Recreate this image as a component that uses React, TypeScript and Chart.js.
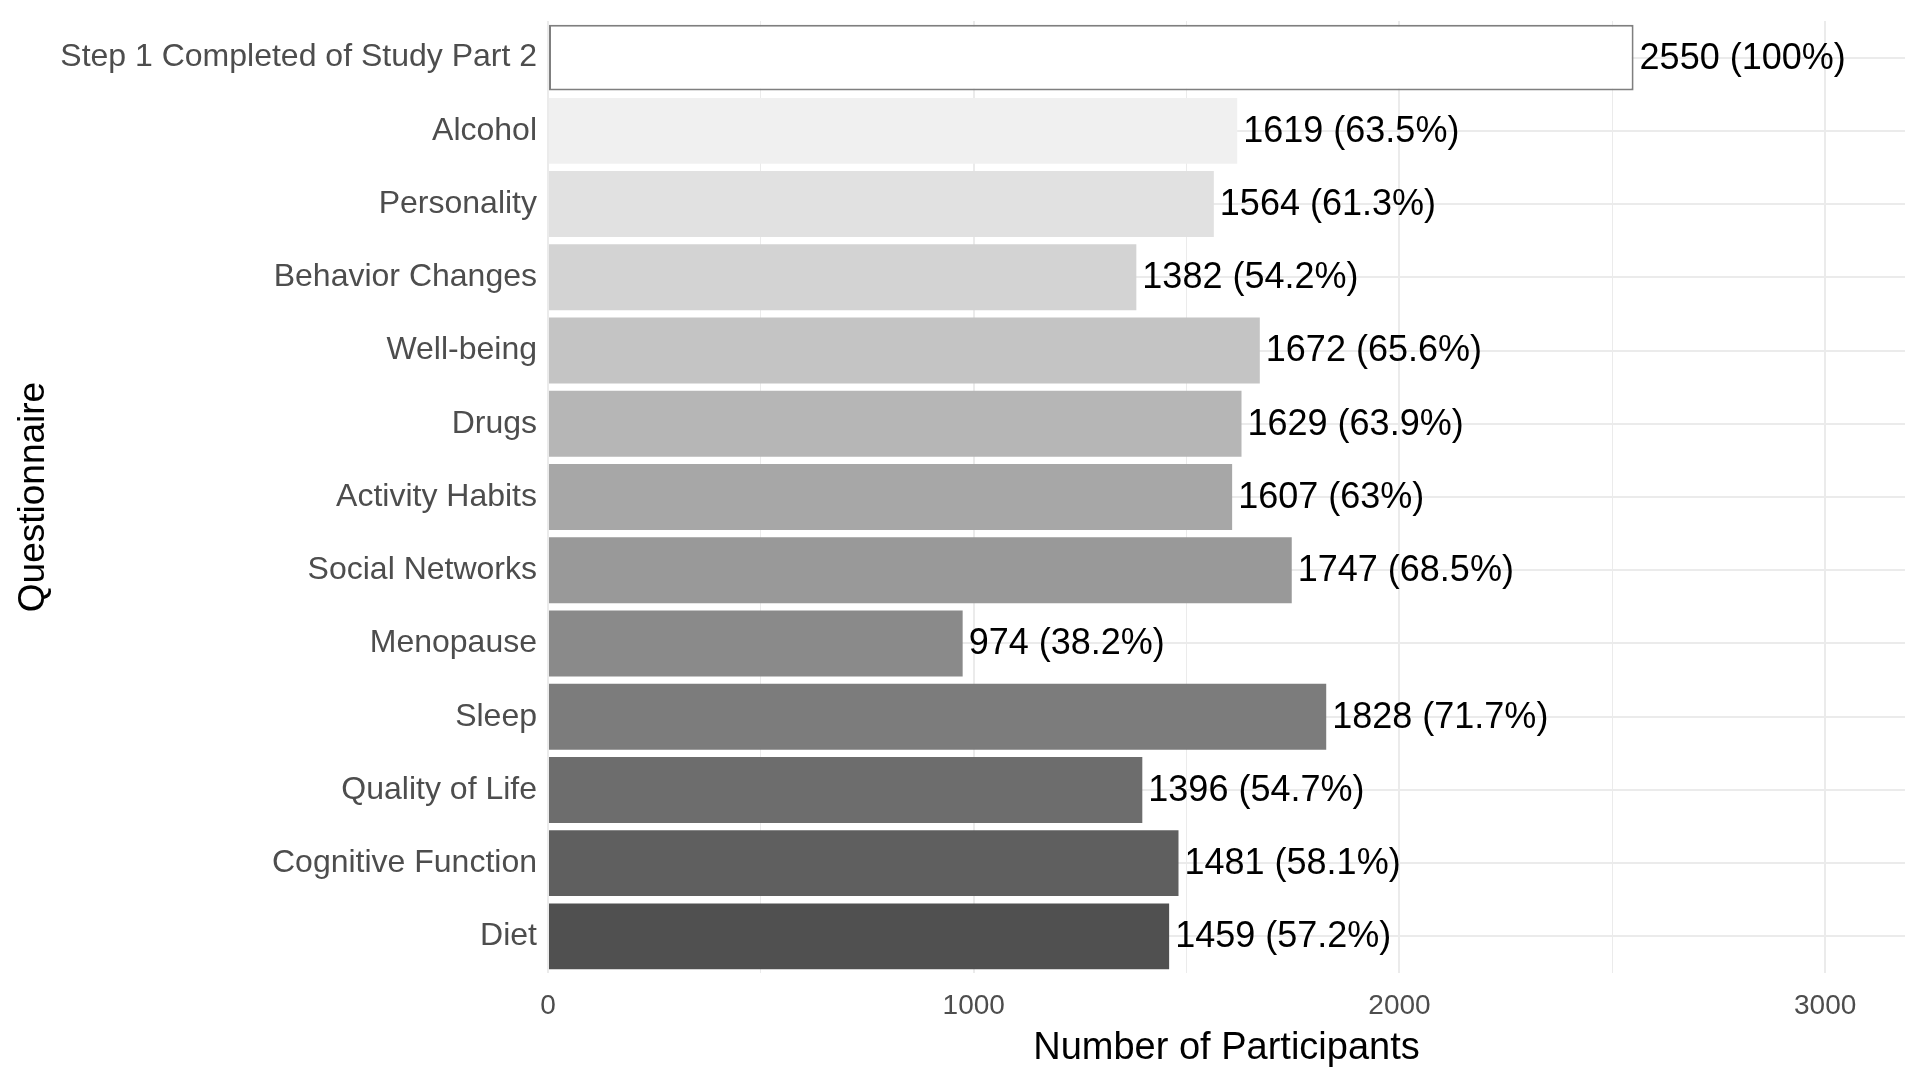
import { useEffect, useRef } from "react";
import { Chart, registerables, Plugin } from "chart.js";

Chart.register(...registerables);

const questionnaires = [
  "Step 1 Completed of Study Part 2",
  "Alcohol",
  "Personality",
  "Behavior Changes",
  "Well-being",
  "Drugs",
  "Activity Habits",
  "Social Networks",
  "Menopause",
  "Sleep",
  "Quality of Life",
  "Cognitive Function",
  "Diet",
];
const participants = [2550, 1619, 1564, 1382, 1672, 1629, 1607, 1747, 974, 1828, 1396, 1481, 1459];
const totalParticipants = 2550;
const xMax = 3187.5;
// major grid lines carry a label, minor ones in between do not
const xGridValues = [0, 500, 1000, 1500, 2000, 2500, 3000];
const xTickLabels = ["0", "", "1000", "", "2000", "", "3000"];

const barFills = [
  "#ffffff", "#f0f0f0", "#e1e1e1", "#d3d3d3", "#c4c4c4", "#b6b6b6", "#a7a7a7",
  "#999999", "#8a8a8a", "#7c7c7c", "#6d6d6d", "#5f5f5f", "#505050",
];

const FONT = '"Liberation Sans", Arial, sans-serif';

// "1619 (63.5%)" next to each bar
const valueLabels: Plugin<"bar"> = {
  id: "valueLabels",
  afterDatasetsDraw(chart) {
    const { ctx } = chart;
    const meta = chart.getDatasetMeta(0);
    ctx.save();
    ctx.font = `36px ${FONT}`;
    ctx.fillStyle = "#000000";
    ctx.textAlign = "left";
    ctx.textBaseline = "middle";
    meta.data.forEach((bar, i) => {
      const v = participants[i];
      const pct = Number(((v / totalParticipants) * 100).toFixed(1));
      ctx.fillText(`${v} (${pct}%)`, bar.x + 6, bar.y + 1);
    });
    ctx.restore();
  },
};

export default function App() {
  const canvasRef = useRef<HTMLCanvasElement | null>(null);

  useEffect(() => {
    if (!canvasRef.current) return;
    Chart.defaults.font.family = FONT;

    const chart = new Chart(canvasRef.current, {
      type: "bar",
      data: {
        labels: questionnaires,
        datasets: [
          {
            data: participants,
            backgroundColor: barFills,
            borderColor: barFills.map((c, i) => (i === 0 ? "#7f7f7f" : c)),
            borderWidth: barFills.map((_, i) => (i === 0 ? 2 : 0)),
            borderSkipped: false,
            categoryPercentage: 1,
            barPercentage: 0.9,
          },
        ],
      },
      options: {
        indexAxis: "y",
        animation: false,
        responsive: true,
        maintainAspectRatio: false,
        layout: { padding: { top: 21, right: 15, bottom: 0, left: 0 } },
        plugins: {
          legend: { display: false },
          tooltip: { enabled: false },
        },
        scales: {
          x: {
            type: "linear",
            min: 0,
            max: xMax,
            border: { display: false },
            grid: {
              drawTicks: false,
              color: "#ebebeb",
              lineWidth: (ctx) => (ctx.tick && ctx.tick.value % 1000 === 0 ? 2 : 1),
            },
            ticks: {
              autoSkip: false,
              maxRotation: 0,
              padding: 16,
              color: "#4d4d4d",
              font: { size: 28 },
              callback: (value) => xTickLabels[xGridValues.indexOf(Number(value))] ?? "",
            },
            afterBuildTicks: (scale) => {
              scale.ticks = xGridValues.map((value) => ({ value }));
            },
            title: {
              display: true,
              text: "Number of Participants",
              color: "#000000",
              font: { size: 38 },
              padding: { top: 0, bottom: 9 },
            },
            afterFit: (scale) => {
              scale.height = 107;
              scale.paddingLeft = 0;
              scale.paddingRight = 0;
            },
          },
          y: {
            type: "category",
            offset: true,
            border: { display: false },
            grid: {
              offset: false,
              drawTicks: false,
              color: "#ebebeb",
              lineWidth: 2,
            },
            ticks: {
              autoSkip: false,
              padding: 11,
              color: "#4d4d4d",
              font: { size: 32 },
            },
            title: {
              display: true,
              text: "Questionnaire",
              color: "#000000",
              font: { size: 37 },
              padding: { top: 12, bottom: 0 },
            },
            afterFit: (scale) => {
              scale.width = 548;
              scale.paddingTop = 0;
              scale.paddingBottom = 0;
            },
          },
        },
      },
      plugins: [valueLabels],
    });

    return () => {
      chart.destroy();
    };
  }, []);

  return (
    <div
      style={{
        position: "fixed",
        top: 0,
        left: 0,
        width: "1920px",
        height: "1080px",
        background: "#ffffff",
      }}
    >
      <canvas ref={canvasRef}></canvas>
    </div>
  );
}
